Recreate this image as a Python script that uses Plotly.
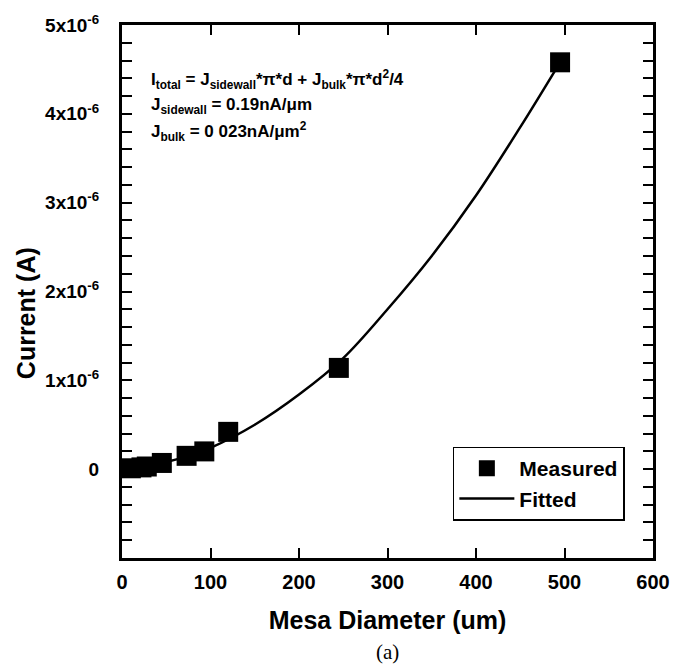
import plotly.graph_objects as go

# Measured data (diameter in um, current in A)
meas_d = [10, 22, 28, 45, 73, 93, 120, 245, 495]
meas_i = [0.01e-6, 0.02e-6, 0.03e-6, 0.07e-6, 0.15e-6, 0.20e-6, 0.42e-6, 1.14e-6, 4.58e-6]

# Fitted curve
fit_d = [0, 25, 50, 75, 100, 150, 200, 250, 300, 350, 400, 450, 495]
fit_i = [0.0, 0.03e-6, 0.08e-6, 0.15e-6, 0.24e-6, 0.50e-6, 0.84e-6, 1.25e-6, 1.80e-6, 2.40e-6, 3.08e-6, 3.85e-6, 4.58e-6]

y_tickvals = [0, 1e-6, 2e-6, 3e-6, 4e-6, 5e-6]
y_ticktext = ["0", "1x10<sup>-6</sup>", "2x10<sup>-6</sup>", "3x10<sup>-6</sup>", "4x10<sup>-6</sup>", "5x10<sup>-6</sup>"]
x_tickvals = [0, 100, 200, 300, 400, 500, 600]

FONT = "Liberation Sans, Arial, sans-serif"

fig = go.Figure()
fig.add_trace(go.Scatter(
    x=fit_d, y=fit_i, mode="lines", name="Fitted",
    line=dict(color="black", width=2.5, shape="spline"),
))
fig.add_trace(go.Scatter(
    x=meas_d, y=meas_i, mode="markers", name="Measured",
    marker=dict(symbol="square", size=20, color="black"),
))

axis_common = dict(
    showline=True, linecolor="black", linewidth=3, mirror="ticks",
    ticks="inside", tickcolor="black", tickwidth=2, ticklen=10,
    showgrid=False, zeroline=False,
)

fig.update_xaxes(
    range=[0, 600], tickvals=x_tickvals, **axis_common,
    tickfont=dict(family=FONT, size=20, color="black", weight="bold"),
    ticklabelstandoff=4,
    title=dict(text="Mesa Diameter (um)", font=dict(family=FONT, size=25, color="black", weight="bold"), standoff=20),
)
fig.update_yaxes(
    range=[-1e-6, 5e-6], tickvals=y_tickvals, ticktext=y_ticktext, **axis_common,
    tickfont=dict(family=FONT, size=19, color="black", weight="bold"),
    ticklabelstandoff=16,
    minor=dict(dtick=0.2e-6, ticks="inside", ticklen=10, tickwidth=1.5, tickcolor="black"),
)

# y-axis title (placed slightly below the plot centre, like the reference)
fig.add_annotation(x=-0.182, y=0.46, xref="paper", yref="paper", text="Current (A)",
                   showarrow=False, textangle=-90, xanchor="center", yanchor="middle",
                   font=dict(family=FONT, size=25, color="black", weight="bold"))

ann_font = dict(family=FONT, size=17, color="black", weight="bold")
lines = [
    "I<sub>total</sub> = J<sub>sidewall</sub>*π*d + J<sub>bulk</sub>*π*d<sup>2</sup>/4",
    "J<sub>sidewall</sub> = 0.19nA/μm",
    "J<sub>bulk</sub> = 0 023nA/μm<sup>2</sup>",
]
ys = [4.39e-6, 4.09e-6, 3.80e-6]
for t, yv in zip(lines, ys):
    fig.add_annotation(x=30, y=yv, xref="x", yref="y", text=t, showarrow=False,
                       xanchor="left", yanchor="middle", font=ann_font)

fig.add_annotation(x=0.5, y=-0.176, xref="paper", yref="paper", text="(a)", showarrow=False,
                   yanchor="middle",
                   font=dict(family="Liberation Serif, Times New Roman, serif", size=21, color="black"))

fig.update_layout(
    width=682, height=667,
    margin=dict(l=122, r=27, t=17, b=109),
    paper_bgcolor="white", plot_bgcolor="white",
    showlegend=True,
    legend=dict(
        x=0.947, y=0.209, xanchor="right", yanchor="top",
        bordercolor="black", borderwidth=1.5, bgcolor="white",
        font=dict(family=FONT, size=21, color="black", weight="bold"),
        traceorder="reversed", itemwidth=55, tracegroupgap=0,
    ),
)

fig.write_html("out.html")
